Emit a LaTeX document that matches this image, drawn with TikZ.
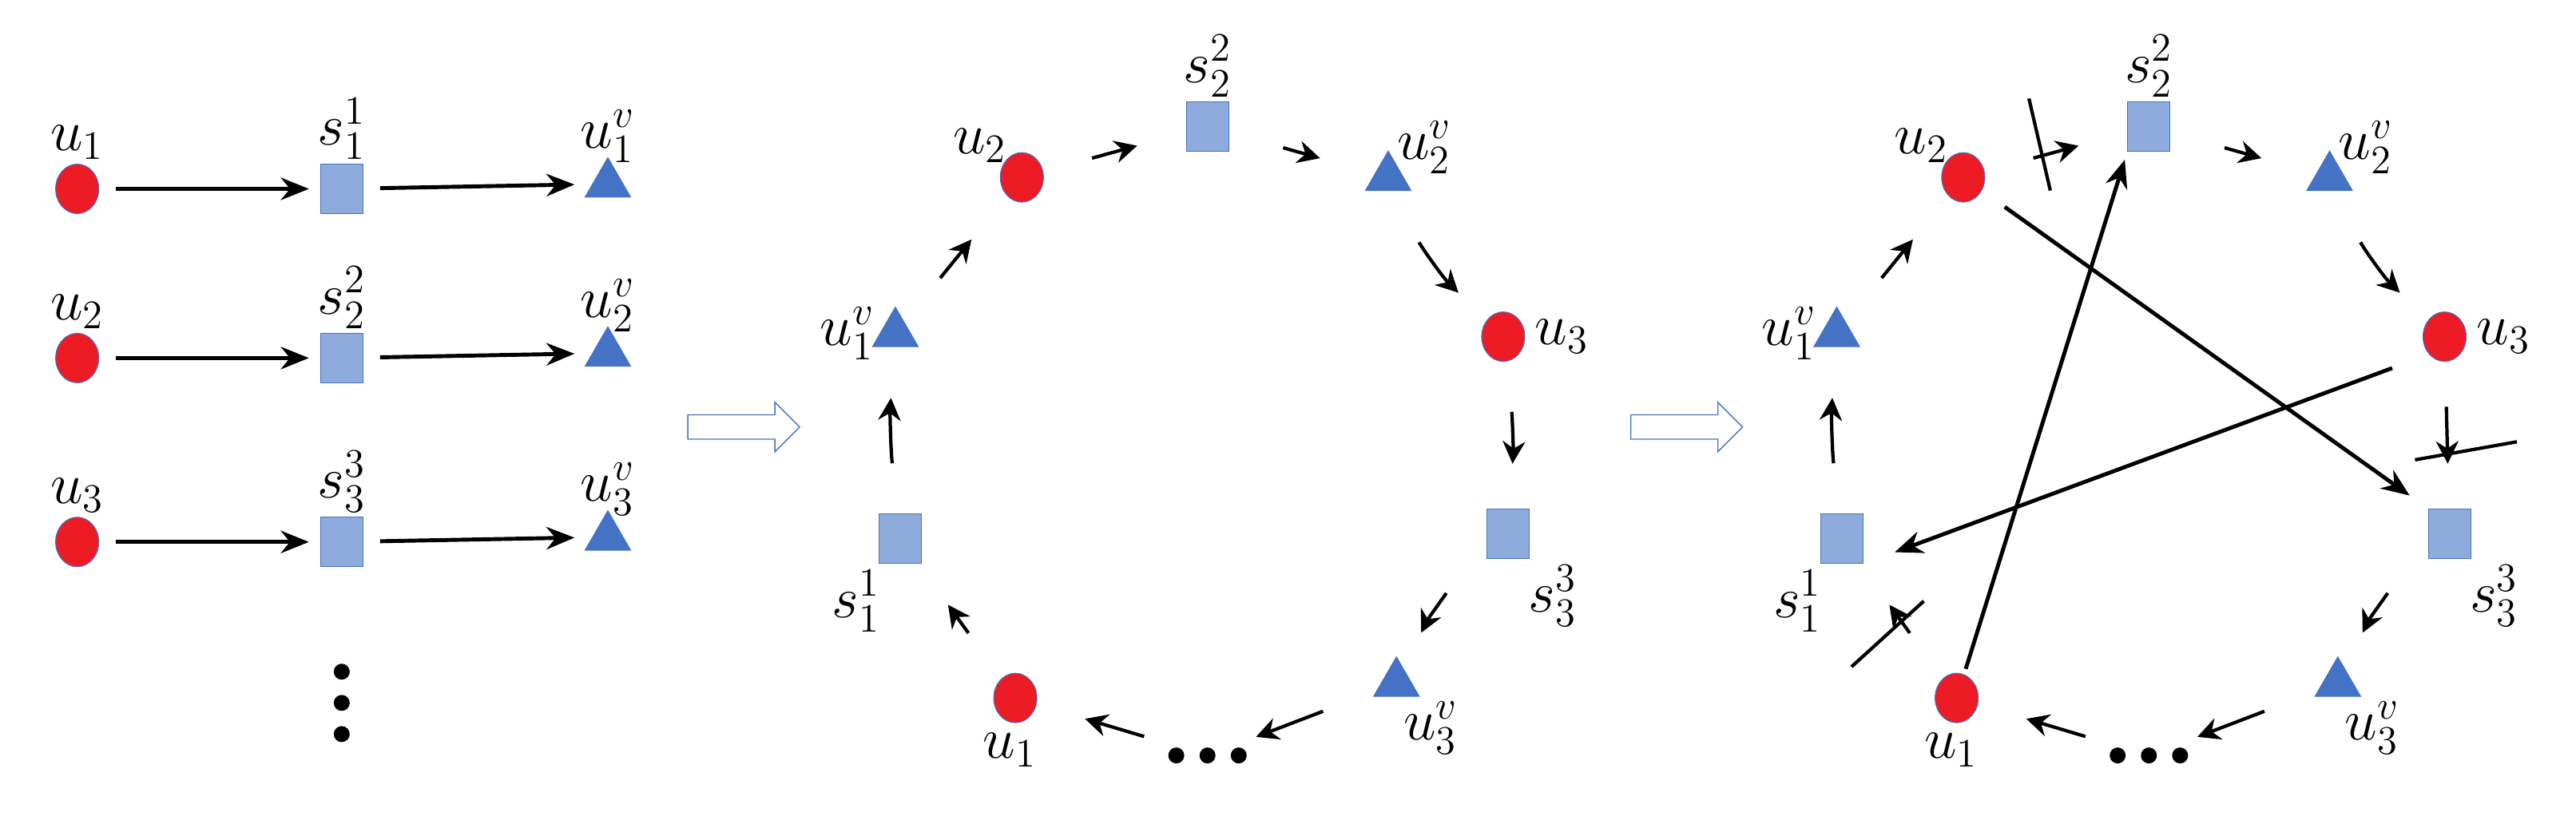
\documentclass[tikz,border=0pt]{standalone}
\usetikzlibrary{shapes.geometric,shapes.arrows,arrows.meta}
\definecolor{ured}{HTML}{ED1C24}
\definecolor{sfill}{HTML}{8FAADC}
\definecolor{sblue}{HTML}{4472C4}
\begin{document}
\begin{tikzpicture}[x=0.02057cm,y=-0.02057cm,font=\fontsize{20}{24}\selectfont]
	\tikzstyle{user}=[ellipse,fill=ured,draw=sblue,line width=0.3pt,minimum width=0.54cm,minimum height=0.62cm,inner sep=0pt]
	\tikzstyle{serv}=[rectangle,fill=sfill,draw=sblue,line width=0.3pt,minimum width=0.53cm,minimum height=0.62cm,inner sep=0pt]
	\tikzstyle{replica}=[regular polygon,regular polygon sides=3,fill=sblue,minimum size=0.68cm,inner sep=0pt]
	\tikzstyle{flow}=[-{Stealth[length=10pt,width=8pt]},line width=1.4pt]
	\tikzstyle{ringarrow}=[-{Stealth[length=8pt,width=8pt]},line width=1.2pt]
	\tikzstyle{hollow}=[single arrow,draw=sblue,fill=white,line width=0.4pt,minimum height=1.4cm,minimum width=0.62cm,single arrow head extend=0.08cm,inner sep=2pt]
	\tikzstyle{gap}=[minimum width=1.2cm,minimum height=0.3cm,inner sep=0pt]
	\useasboundingbox (0,0) rectangle (1568,511.4);

	% left panel
	\foreach \i/\y in {1/115,2/218,3/330}{
		\node[user, label={[yshift=-2pt]above:$u_{\i}$}] (L-u\i) at (47,\y) {};
		\node[serv, label={[yshift=-2pt]above:$s_{\i}^{\i}$}] (L-s\i) at (208,\y) {};
		\node[replica, label={[yshift=-6pt]above:$u_{\i}^{v}$}] (L-c\i) at (370,\y-3) {};
		\draw[flow, shorten <=6pt, shorten >=4pt] (L-u\i) -- (L-s\i);
		\draw[flow, shorten <=6pt, shorten >=6pt] (L-s\i) -- (L-c\i);
	}
	\coordinate (L-dots) at (208,428);
	\foreach \d in {-19,0,19} \fill ([yshift=\d*0.02057cm]L-dots) circle (0.1cm);

	\node[hollow] (A1) at (449,260) {};
	\node[hollow] (A2) at (1023,260) {};

	% rings
	\foreach \p/\dx in {M/0,R/573}{
		\begin{scope}[xshift=\dx*0.02057cm]
			\node[replica, label={[xshift=2pt]left:$u_1^v$}] (\p-c1) at (545,203) {};
			\node[user, label={[xshift=4pt,yshift=-4pt]above left:$u_2$}] (\p-u2) at (622,108) {};
			\node[serv, label={[yshift=-2pt]above:$s_2^2$}] (\p-s2) at (735,77) {};
			\node[replica, label={[xshift=-4pt,yshift=-6pt]above right:$u_2^v$}] (\p-c2) at (845,108) {};
			\node[user, label=right:$u_3$] (\p-u3) at (915,205) {};
			\node[serv, label={[xshift=-4pt]below right:$s_3^3$}] (\p-s3) at (918,325) {};
			\node[replica, label={[xshift=-6pt,yshift=2pt]below right:$u_3^v$}] (\p-c3) at (850,416) {};
			\node[gap] (\p-dots) at (735,460) {};
			\node[user, label={[xshift=-2pt]below:$u_1$}] (\p-u1) at (618,425) {};
			\node[serv, label={[xshift=4pt]below left:$s_1^1$}] (\p-s1) at (548,328) {};
		\end{scope}
		\foreach \d in {-19,0,19} \fill ([xshift=\d*0.02057cm]\p-dots) circle (0.1cm);
		\draw[ringarrow, shorten <=20pt, shorten >=20pt] (\p-c1) -- (\p-u2);
		\draw[ringarrow, shorten <=20pt, shorten >=20pt] (\p-s2) -- (\p-c2);
		\draw[ringarrow, shorten <=20pt, shorten >=14pt, bend right=10] (\p-c2) to (\p-u3);
		\draw[ringarrow, shorten <=20pt, shorten >=14pt, bend right=10] (\p-s3) to (\p-c3);
		\draw[ringarrow, shorten <=20pt, shorten >=6pt] (\p-c3) -- (\p-dots);
		\draw[ringarrow, shorten <=8pt, shorten >=18pt] (\p-dots) -- (\p-u1);
		\draw[ringarrow, shorten <=18pt, shorten >=18pt] (\p-s1) to[bend left=5] (\p-c1);
	}
	\draw[ringarrow, shorten <=18pt, shorten >=18pt] (M-u2) -- (M-s2);
	\draw[ringarrow, shorten <=18pt, shorten >=16pt, bend left=5] (M-u3) to (M-s3);
	\draw[ringarrow, shorten <=20pt, shorten >=18pt] (M-u1) -- (M-s1);
	\draw[ringarrow, shorten <=18pt, shorten >=18pt] (R-u2) -- (R-s2);
	\draw[ringarrow, shorten <=16pt, shorten >=16pt] (R-u3) -- (R-s3);
	\draw[ringarrow, shorten <=20pt, shorten >=18pt] (R-u1) -- (R-s1);

	% cross-over links
	\draw[flow, shorten <=2pt, shorten >=3pt] (R-u1) -- (R-s2.south west);
	\draw[flow, shorten <=10pt, shorten >=8pt] (R-u2) -- (R-s3.north west);
	\draw[flow, shorten <=14pt, shorten >=12pt] (R-u3.south west) -- (R-s1.south east);

	% cuts
	\draw[line width=1.2pt] (1235,60) -- (1248,116);
	\draw[line width=1.2pt] (1470,280) -- (1532,269);
	\draw[line width=1.2pt] (1127,406) -- (1171,366);
\end{tikzpicture}
\end{document}
